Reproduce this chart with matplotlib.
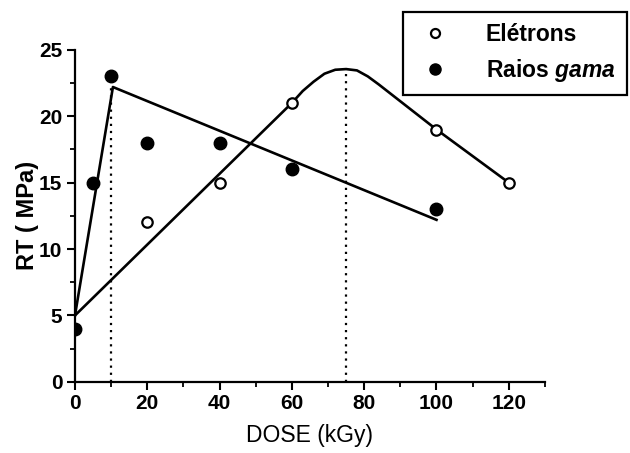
import matplotlib
matplotlib.use("Agg")
import matplotlib.pyplot as plt
from matplotlib.ticker import MultipleLocator

plt.rcParams['font.family'] = ['Liberation Sans', 'DejaVu Sans']
plt.rcParams['mathtext.fontset'] = 'custom'
plt.rcParams['mathtext.it'] = 'Liberation Sans:italic:bold'
plt.rcParams['mathtext.rm'] = 'Liberation Sans:bold'

# measured points
dose_e = [20, 40, 60, 100, 120]
rt_e = [12, 15, 21, 19, 15]
dose_g = [0, 5, 10, 20, 40, 60, 100]
rt_g = [4, 15, 23, 18, 18, 16, 13]

# fitted curves
fit_e_x = [0, 60, 63, 66, 69, 72, 75, 78, 81, 84, 100, 120]
fit_e_y = [5, 21, 21.9, 22.6, 23.2, 23.5, 23.55, 23.45, 23.0, 22.4, 19, 15]
fit_g_x = [0, 10.5, 100]
fit_g_y = [5, 22.2, 12.2]

# dotted markers of the maxima
peak_x = [10, 75]
peak_y = [22.2, 23.5]

fig = plt.figure(figsize=(6.3, 4.53), dpi=100)
ax = fig.add_axes([0.119, 0.157, 0.746, 0.733])

ax.plot(fit_e_x, fit_e_y, color='black', lw=1.9, zorder=2)
ax.plot(fit_g_x, fit_g_y, color='black', lw=1.9, zorder=2)
for px, py in zip(peak_x, peak_y):
    ax.plot([px, px], [0, py], color='black', lw=1.6, ls=(0, (1, 2.2)), zorder=1)

ax.plot(dose_e, rt_e, 'o', ms=7.5, mfc='white', mec='black', mew=1.6,
        ls='none', label='Elétrons', zorder=3)
ax.plot(dose_g, rt_g, 'o', ms=9, mfc='black', mec='black',
        ls='none', label=r'Raios $\mathit{gama}$', zorder=3)

ax.set_xlim(0, 130)
ax.set_ylim(0, 25)
ax.xaxis.set_major_locator(MultipleLocator(20))
ax.xaxis.set_minor_locator(MultipleLocator(10))
ax.yaxis.set_major_locator(MultipleLocator(5))
ax.yaxis.set_minor_locator(MultipleLocator(2.5))
ax.spines['top'].set_visible(False)
ax.spines['right'].set_visible(False)
ax.spines['left'].set_linewidth(1.6)
ax.spines['bottom'].set_linewidth(1.6)
ax.tick_params(which='major', direction='out', length=6, width=1.5, labelsize=15, pad=3)
ax.tick_params(which='minor', direction='out', length=3.5, width=1.3)
for lbl in ax.get_xticklabels() + ax.get_yticklabels():
    lbl.set_fontweight('bold')

ax.set_xlabel('DOSE (kGy)', fontsize=16.5, labelpad=8)
ax.set_ylabel('RT ( MPa)', fontsize=17, fontweight='bold', labelpad=0)

leg = fig.legend(loc='upper right', bbox_to_anchor=(627 / 630, 1 - 12 / 453),
                 fancybox=False, edgecolor='black', framealpha=1,
                 prop={'size': 16.5, 'weight': 'bold'}, handletextpad=1.3,
                 borderpad=0.5, labelspacing=0.45, handlelength=1.8,
                 borderaxespad=0)
leg.get_frame().set_linewidth(1.6)
leg.legend_handles[0].set_markersize(6.5)
leg.legend_handles[1].set_markersize(8)

fig.savefig('out.png', dpi=100)
